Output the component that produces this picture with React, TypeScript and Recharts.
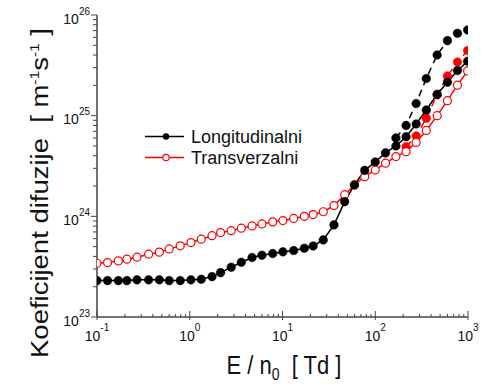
import React from "react";
import { LineChart, Line, XAxis, YAxis } from "recharts";

// E / n0 [Td]
const E = [0.1, 0.13, 0.17, 0.21, 0.27, 0.36, 0.47, 0.6, 0.79, 1.03, 1.33, 1.74, 2.15, 2.8, 3.6, 4.7, 6.0, 7.85, 10.1, 13.2, 17.2, 21.4, 27.5, 35.9, 46.8, 59.6, 77, 100, 129, 167, 215, 276, 355, 465, 600, 770, 990];

// Longitudinalni (solid black, filled circles)
const longit = [2.30e23, 2.30e23, 2.30e23, 2.30e23, 2.34e23, 2.34e23, 2.34e23, 2.30e23, 2.30e23, 2.34e23, 2.37e23, 2.52e23, 2.76e23, 3.12e23, 3.50e23, 3.90e23, 4.11e23, 4.27e23, 4.44e23, 4.57e23, 4.82e23, 5.08e23, 5.83e23, 8.22e23, 1.40e24, 2.05e24, 2.86e24, 3.47e24, 4.27e24, 5.0e24, 6.18e24, 8.27e24, 1.14e25, 1.63e25, 2.15e25, 2.81e25, 3.47e25];

// Transverzalni (solid red, open circles)
const transv = [3.42e23, 3.47e23, 3.61e23, 3.75e23, 3.93e23, 4.21e23, 4.41e23, 4.75e23, 5.09e23, 5.49e23, 5.93e23, 6.43e23, 6.89e23, 7.21e23, 7.62e23, 8.03e23, 8.41e23, 8.81e23, 9.07e23, 9.53e23, 1.00e24, 1.04e24, 1.11e24, 1.28e24, 1.64e24, 2.05e24, 2.48e24, 2.89e24, 3.37e24, 3.92e24, 4.39e24, 5.42e24, 7.13e24, 1.00e25, 1.41e25, 2.01e25, 2.78e25];

// Dashed black (filled) starting at E index 29
const longitDashedStart = 29;
const longitDashed = [6.01e24, 8.0e24, 1.32e25, 2.34e25, 4.01e25, 5.56e25, 6.58e25, 7.1e25];

// Dashed red (filled) starting at E index 30
const transvDashedStart = 30;
const transvDashed = [4.92e24, 6.29e24, 9.42e24, 1.61e25, 2.48e25, 3.41e25, 4.44e25];

const xTicks: number[] = [];
for (let d = -1; d <= 2; d++) for (let m = 1; m <= 9; m++) xTicks.push(m * Math.pow(10, d));
xTicks.push(1000);
const yTicks: number[] = [];
for (let d = 23; d <= 25; d++) for (let m = 1; m <= 9; m++) yTicks.push(m * Math.pow(10, d));
yTicks.push(1e26);

const data = E.map((e, i) => ({
  E: e,
  longit: longit[i],
  transv: transv[i],
  longitD: i >= longitDashedStart ? longitDashed[i - longitDashedStart] : null,
  transvD: i >= transvDashedStart ? transvDashed[i - transvDashedStart] : null,
}));

const FONT = "'Liberation Sans', Arial, sans-serif";
const AX = "#444";

const isMajor = (v: number) => {
  const l = Math.log10(v);
  return Math.abs(l - Math.round(l)) < 1e-6;
};

const BottomTick = (p: any) => {
  const { x, y, payload } = p;
  const maj = isMajor(payload.value);
  const exp = Math.round(Math.log10(payload.value));
  return (
    <g>
      <line x1={x} x2={x} y1={y + (maj ? 3 : 0)} y2={y - (maj ? 6 : 3)} stroke={AX} strokeWidth={1} />
      {maj && (
        <text x={x} y={y + 24} textAnchor="middle" fontSize={14} fontFamily={FONT} fill="#111">
          10<tspan dy={-10} fontSize={10}>{exp}</tspan>
        </text>
      )}
    </g>
  );
};

const TopTick = (p: any) => {
  const { x, y, payload } = p;
  const maj = isMajor(payload.value);
  return <line x1={x} x2={x} y1={y} y2={y + (maj ? 6 : 3)} stroke={AX} strokeWidth={1} />;
};

const LeftTick = (p: any) => {
  const { x, y, payload } = p;
  const maj = isMajor(payload.value);
  const exp = Math.round(Math.log10(payload.value));
  return (
    <g>
      <line x1={x - (maj ? 6 : 4)} x2={x} y1={y} y2={y} stroke={AX} strokeWidth={1} />
      {maj && (
        <text x={x - 7} y={y + 8.5} textAnchor="end" fontSize={14} fontFamily={FONT} fill="#111">
          10<tspan dy={-9} fontSize={10}>{exp}</tspan>
        </text>
      )}
    </g>
  );
};

const RightTick = (p: any) => {
  const { x, y, payload } = p;
  const maj = isMajor(payload.value);
  return <line x1={x} x2={x - (maj ? 6 : 3)} y1={y} y2={y} stroke={AX} strokeWidth={1} />;
};

const BlackDot = (p: any) => {
  const { cx, cy } = p;
  if (cx == null || cy == null || p.value == null) return <g key={p.key} />;
  return <circle key={p.key} cx={cx} cy={cy} r={4.3} fill="#000" stroke="#000" strokeWidth={0.5} />;
};
const RedDot = (p: any) => {
  const { cx, cy } = p;
  if (cx == null || cy == null || p.value == null) return <g key={p.key} />;
  return <circle key={p.key} cx={cx} cy={cy} r={4.3} fill="#ff0000" stroke="#ff0000" strokeWidth={0.5} />;
};
const RedOpen = (p: any) => {
  const { cx, cy } = p;
  if (cx == null || cy == null || p.value == null) return <g key={p.key} />;
  return <circle key={p.key} cx={cx} cy={cy} r={4} fill="#fff" stroke="#ff0000" strokeWidth={1.2} />;
};

export default function App() {
  return (
    <div style={{ position: "absolute", left: 0, top: 0, width: 481, height: 384, background: "#fff" }}>
      <LineChart width={481} height={384} data={data} margin={{ top: 15, right: 13, bottom: 0, left: 0 }}>
        <XAxis
          dataKey="E"
          type="number"
          scale="log"
          domain={[0.1, 1000]}
          allowDataOverflow
          ticks={xTicks}
          interval={0}
          height={67}
          tickSize={0}
          tickMargin={0}
          tickLine={false}
          tick={BottomTick}
          axisLine={{ stroke: AX, strokeWidth: 1.5 }}
        />
        <XAxis
          xAxisId="top"
          orientation="top"
          dataKey="E"
          type="number"
          scale="log"
          domain={[0.1, 1000]}
          allowDataOverflow
          ticks={xTicks}
          interval={0}
          height={0}
          tickSize={0}
          tickMargin={0}
          tickLine={false}
          tick={TopTick}
          axisLine={{ stroke: AX, strokeWidth: 1.5 }}
        />
        <YAxis
          type="number"
          scale="log"
          domain={[1e23, 1e26]}
          allowDataOverflow
          ticks={yTicks}
          interval={0}
          width={97}
          tickSize={0}
          tickMargin={0}
          tickLine={false}
          tick={LeftTick}
          axisLine={{ stroke: AX, strokeWidth: 1.5 }}
        />
        <YAxis
          yAxisId="right"
          orientation="right"
          type="number"
          scale="log"
          domain={[1e23, 1e26]}
          allowDataOverflow
          ticks={yTicks}
          interval={0}
          width={0}
          tickSize={0}
          tickMargin={0}
          tickLine={false}
          tick={RightTick}
          axisLine={{ stroke: AX, strokeWidth: 1.5 }}
        />
        <Line dataKey="transvD" stroke="#ff0000" strokeWidth={1.5} strokeDasharray="7 5" dot={RedDot} isAnimationActive={false} />
        <Line dataKey="longitD" stroke="#000" strokeWidth={1.5} strokeDasharray="7 5" dot={BlackDot} isAnimationActive={false} />
        <Line dataKey="transv" stroke="#ff0000" strokeWidth={1.5} dot={RedOpen} isAnimationActive={false} />
        <Line dataKey="longit" stroke="#000" strokeWidth={1.5} dot={BlackDot} isAnimationActive={false} />
      </LineChart>
      <svg width={481} height={384} style={{ position: "absolute", left: 0, top: 0, pointerEvents: "none" }}>
        <g fontFamily={FONT} fill="#111">
          <line x1={145} x2={184} y1={136.5} y2={136.5} stroke="#000" strokeWidth={1.5} />
          <circle cx={166} cy={136.5} r={3.2} fill="#000" />
          <text x={191} y={143} fontSize={18}>Longitudinalni</text>
          <line x1={145} x2={184} y1={157.5} y2={157.5} stroke="#ff0000" strokeWidth={1.5} />
          <circle cx={166} cy={157.5} r={3.2} fill="#fff" stroke="#ff0000" strokeWidth={1.2} />
          <text x={191} y={164} fontSize={18}>Transverzalni</text>
          <text transform="translate(284,374) scale(1,1.15)" x={0} y={0} textAnchor="middle" fontSize={22} style={{ whiteSpace: "pre" }}>
            {"E / n"}<tspan dy={5} fontSize={14}>0</tspan><tspan dy={-5}>{"  [ Td ]"}</tspan>
          </text>
          <text transform="translate(48,193) rotate(-90)" x={0} y={0} textAnchor="middle" fontSize={23} textLength={330} lengthAdjust="spacingAndGlyphs" style={{ whiteSpace: "pre" }}>
            {"Koeficijent difuzije  [ m"}<tspan dy={-9} fontSize={13}>-1</tspan><tspan dy={9}>s</tspan><tspan dy={-9} fontSize={13}>-1</tspan><tspan dy={9}>{" ]"}</tspan>
          </text>
        </g>
      </svg>
    </div>
  );
}
